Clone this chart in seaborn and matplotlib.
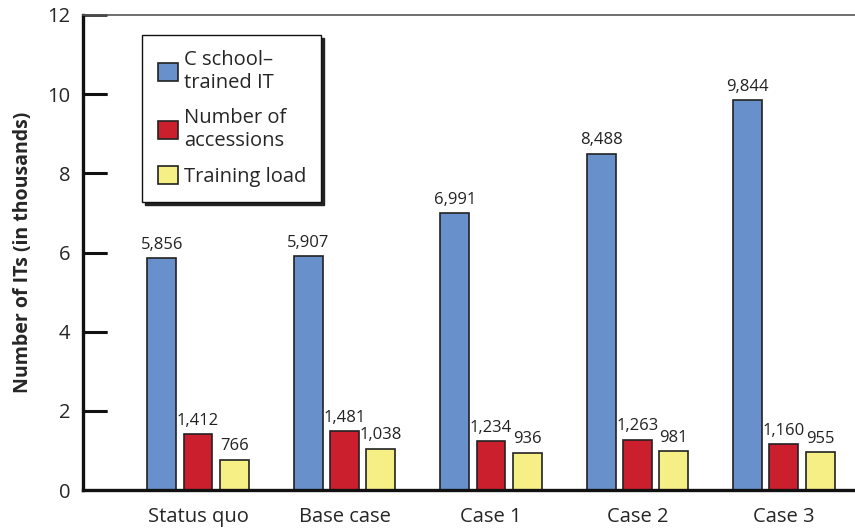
import matplotlib
matplotlib.use('Agg')
import matplotlib.pyplot as plt
import seaborn as sns
import pandas as pd

cases = ['Status quo', 'Base case', 'Case 1', 'Case 2', 'Case 3']
school_trained = [5856, 5907, 6991, 8488, 9844]
accessions = [1412, 1481, 1234, 1263, 1160]
training_load = [766, 1038, 936, 981, 955]
series_names = ['C school\u2013\ntrained IT', 'Number of\naccessions', 'Training load']
colors = ['#6891CB', '#CC1F2E', '#F5EF86']
y_ticks = [0, 2, 4, 6, 8, 10, 12]

# long format for seaborn
rows = []
for name, vals in zip(series_names, [school_trained, accessions, training_load]):
    for c, v in zip(cases, vals):
        rows.append({'case': c, 'series': name, 'count': v, 'thousands': v / 1000})
df = pd.DataFrame(rows)

sns.set_style('white')
plt.rcParams['font.family'] = ['Open Sans', 'DejaVu Sans']

fig = plt.figure(figsize=(8.55, 5.29), dpi=100)
ax = fig.add_axes([83 / 855, 1 - 490 / 529, 1 - 83 / 855, (490 - 15) / 529])

sns.barplot(data=df, x='case', y='thousands', hue='series', palette=colors,
            width=0.74, gap=0.2, edgecolor='#222222', linewidth=1.2,
            saturation=1, errorbar=None, ax=ax)

# value labels above each bar
for cont, name in zip(ax.containers, series_names):
    vals = df[df['series'] == name]['count']
    ax.bar_label(cont, labels=[f'{v:,}' for v in vals], padding=4,
                 fontsize=12, color='#222222')

ax.set_ylim(0, 12)
ax.set_xlim(-0.785, 4.485)
ax.set_yticks(y_ticks)
ax.set_xlabel('')
ax.set_ylabel('Number of ITs (in thousands)', fontsize=14, fontweight='bold', labelpad=10)
ax.tick_params(axis='y', left=True, direction='in', length=17, width=1.8,
               labelsize=14.5, pad=9, color='#111111')
ax.tick_params(axis='x', bottom=False, length=0, labelsize=14.5, pad=12)

# inward tick marks on the y axis, drawn explicitly as well
ax.hlines(y_ticks[1:-1], 0, 24 / 772, transform=ax.get_yaxis_transform(),
          colors='#111111', linewidth=2.2, clip_on=False, zorder=10)

for side in ['left', 'bottom']:
    ax.spines[side].set_linewidth(2.4)
    ax.spines[side].set_color('#111111')
ax.spines['top'].set_linewidth(1.2)
ax.spines['top'].set_color('#555555')
ax.spines['right'].set_visible(False)

handles, labels = ax.get_legend_handles_labels()
leg = ax.legend(handles, labels, loc='upper left', bbox_to_anchor=(0.077, 0.958),
                borderaxespad=0, fontsize=14.5, frameon=True, fancybox=False,
                framealpha=1, edgecolor='#111111',
                shadow={'color': '#222222', 'alpha': 1},
                handlelength=1.0, handleheight=1.0, handletextpad=0.3,
                labelspacing=0.75, borderpad=0.75)
leg.get_frame().set_linewidth(1.0)

fig.savefig('out.png', dpi=100)
